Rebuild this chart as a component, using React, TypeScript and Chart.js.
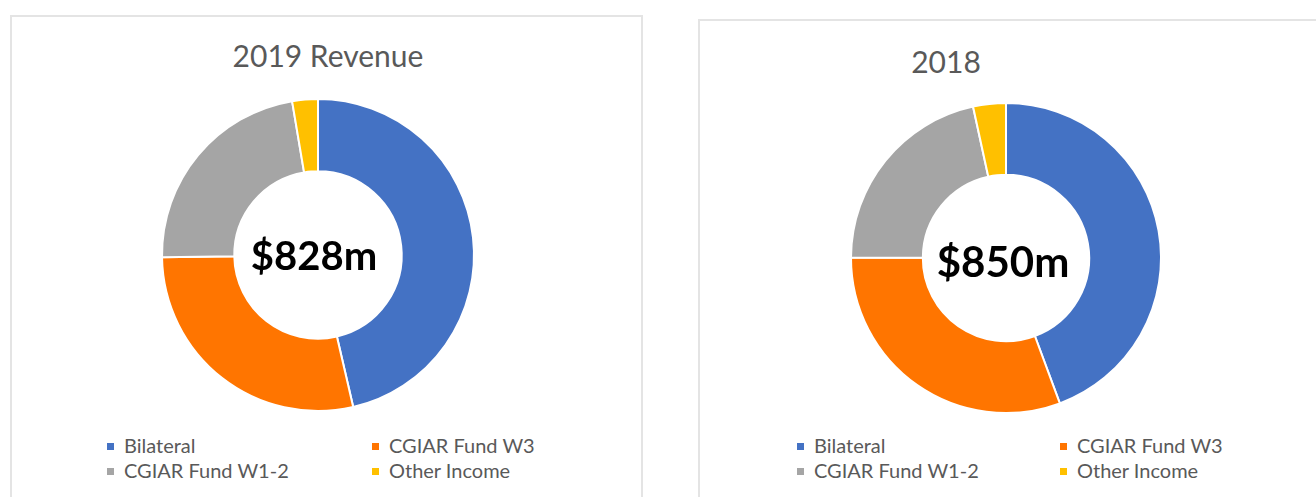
import React, { useEffect, useRef } from "react";
import { Chart, registerables } from "chart.js";

Chart.register(...registerables);

const categories = ["Bilateral", "CGIAR Fund W3", "CGIAR Fund W1-2", "Other Income"];
const revenue2019 = [384, 235, 187, 22];
const revenue2018 = [377, 261, 183, 29];
const colors = ["#4472C4", "#FF7500", "#A5A5A5", "#FFC000"];
const legendOrder = [0, 1, 2, 3];

const FONT = "Lato, 'Open Sans', sans-serif";

function Donut(props: { data: number[]; left: number; top: number; size: number; radius: number; cutout: number }) {
  const ref = useRef<HTMLCanvasElement | null>(null);
  useEffect(() => {
    if (!ref.current) return;
    const chart = new Chart(ref.current, {
      type: "doughnut",
      data: {
        labels: categories,
        datasets: [
          {
            data: props.data,
            backgroundColor: colors,
            borderColor: "#ffffff",
            borderWidth: 2,
          },
        ],
      },
      options: {
        animation: false,
        responsive: false,
        maintainAspectRatio: false,
        radius: props.radius,
        cutout: props.cutout,
        layout: { padding: 0 },
        plugins: { legend: { display: false }, tooltip: { enabled: false }, title: { display: false } },
      } as any,
    });
    return () => chart.destroy();
  }, []);
  return (
    <canvas
      ref={ref}
      width={props.size}
      height={props.size}
      style={{ position: "absolute", left: props.left, top: props.top, width: props.size, height: props.size }}
    />
  );
}

function Legend(props: { x1: number; x2: number; row1: number; row2: number }) {
  const pos = [
    { x: props.x1, y: props.row1 },
    { x: props.x2, y: props.row1 },
    { x: props.x1, y: props.row2 },
    { x: props.x2, y: props.row2 },
  ];
  return (
    <>
      {legendOrder.map((ci, i) => (
        <div
          key={i}
          style={{
            position: "absolute",
            left: pos[i].x,
            top: pos[i].y,
            height: 20,
            display: "flex",
            alignItems: "center",
            whiteSpace: "nowrap",
            fontFamily: FONT,
            fontSize: 20,
            lineHeight: "20px",
            color: "#595959",
          }}
        >
          <span style={{ display: "inline-block", width: 7, height: 7, background: colors[ci], marginRight: 10, marginTop: 2 }} />
          <span>{categories[ci]}</span>
        </div>
      ))}
    </>
  );
}

export default function App() {
  return (
    <div style={{ position: "absolute", left: 0, top: 0, width: 1316, height: 497, overflow: "hidden", background: "#fff" }}>
      <div style={{ position: "absolute", left: 10, top: 15, width: 633, height: 500, border: "2px solid #e4e4e4", boxSizing: "border-box" }} />
      <div style={{ position: "absolute", left: 698, top: 19, width: 700, height: 500, border: "2px solid #e4e4e4", boxSizing: "border-box" }} />

      <div style={{ position: "absolute", left: 228, width: 200, top: 40, textAlign: "center", fontFamily: FONT, fontSize: 30, lineHeight: "30px", color: "#595959" }}>
        2019 Revenue
      </div>
      <div style={{ position: "absolute", left: 846, width: 200, top: 46, textAlign: "center", fontFamily: FONT, fontSize: 30, lineHeight: "30px", color: "#595959" }}>
        2018
      </div>

      <Donut data={revenue2019} left={153} top={90} size={330} radius={156} cutout={88} />
      <Donut data={revenue2018} left={841} top={93} size={330} radius={155} cutout={88} />

      <div style={{ position: "absolute", left: 214, width: 200, top: 235, textAlign: "center", fontFamily: FONT, fontWeight: 700, fontSize: 40, lineHeight: "40px", color: "#000" }}>
        $828m
      </div>
      <div style={{ position: "absolute", left: 903, width: 200, top: 240, textAlign: "center", fontFamily: FONT, fontWeight: 700, fontSize: 42, lineHeight: "42px", color: "#000" }}>
        $850m
      </div>

      <Legend x1={107} x2={372} row1={435} row2={460} />
      <Legend x1={797} x2={1060} row1={435} row2={460} />
    </div>
  );
}
